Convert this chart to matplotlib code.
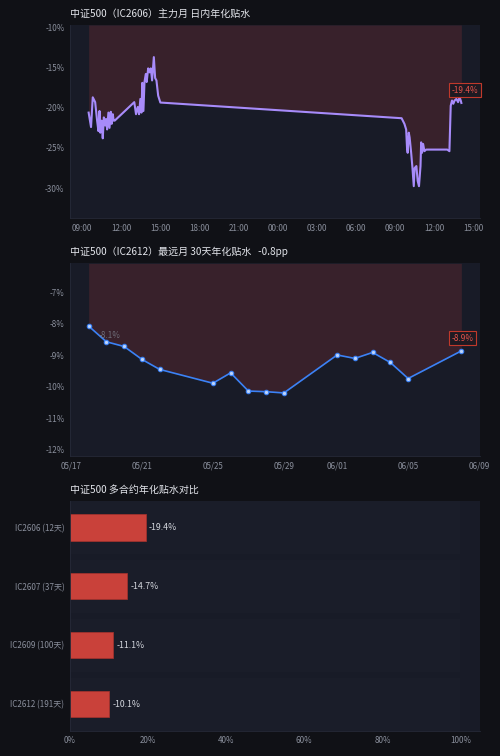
import matplotlib
matplotlib.use('Agg')
import matplotlib.pyplot as plt
import matplotlib.dates as mdates
from matplotlib.ticker import MultipleLocator, FuncFormatter
import numpy as np
import pandas as pd

plt.rcParams['font.family'] = ['Noto Sans CJK SC', 'DejaVu Sans']

# ---- data ----
day1 = '2026-06-04'
day2 = '2026-06-05'
day1_times = ['09:30', '09:41', '09:49', '10:00', '10:09', '10:15', '10:20', '10:24', '10:30', '10:35',
              '10:40', '10:46', '10:50', '10:55', '11:01', '11:06', '11:12', '11:16', '11:21', '11:25',
              '11:30', '13:00', '13:08', '13:16', '13:22', '13:28', '13:33', '13:37', '13:42', '13:47',
              '13:53', '13:57', '14:04', '14:10', '14:16', '14:22', '14:30', '14:36', '14:42', '14:50',
              '15:00']
day1_vals = [-20.6, -22.4, -18.7, -19.3, -21.6, -22.9, -20.4, -23.1, -21.6, -23.8,
             -21.2, -22.2, -21.4, -22.7, -20.6, -22.5, -20.5, -22.0, -20.8, -21.6,
             -21.6, -19.3, -20.8, -19.9, -20.8, -18.9, -20.6, -16.9, -20.4, -16.8,
             -15.8, -16.8, -15.1, -15.6, -15.1, -16.6, -13.7, -16.3, -16.6, -18.5,
             -19.35]
day2_times = ['09:30', '09:43', '09:51', '09:55', '09:58', '10:03', '10:07', '10:14', '10:20', '10:26',
              '10:30', '10:38', '10:44', '10:50', '10:57', '11:00', '11:04', '11:09', '11:15', '11:23',
              '11:30', '13:00', '13:10', '13:16', '13:22', '13:28', '13:34', '13:42', '13:50', '13:56',
              '14:02', '14:05']
day2_vals = [-21.3, -22.0, -22.7, -25.0, -25.6, -23.1, -23.7, -25.6, -27.5, -29.75,
             -27.5, -27.25, -29.1, -29.75, -27.25, -24.3, -25.6, -24.5, -25.4, -25.2,
             -25.2, -25.2, -25.4, -19.75, -19.1, -19.5, -19.1, -18.9, -19.3, -18.7,
             -19.1, -19.4]

far_dates = ['05-18', '05-19', '05-20', '05-21', '05-22', '05-25', '05-26', '05-27', '05-28', '05-29',
             '06-01', '06-02', '06-03', '06-04', '06-05', '06-08']
far_vals = [-8.07, -8.57, -8.72, -9.13, -9.45, -9.89, -9.56, -10.14, -10.16, -10.2,
            -8.99, -9.10, -8.91, -9.23, -9.74, -8.86]

contracts = ['IC2606 (12天)', 'IC2607 (37天)', 'IC2609 (100天)', 'IC2612 (191天)']
basis = [-19.4, -14.7, -11.1, -10.1]

# ---- style ----
fig_bg = '#101116'
ax_bg = '#181b27'
tick_c = '#8a8f9c'
title_c = '#e2e4ea'
red = '#ef4444'
pct = FuncFormatter(lambda v, p: '{:.0f}%'.format(v))


def style(ax):
    ax.set_facecolor(ax_bg)
    for s in ['top', 'right']:
        ax.spines[s].set_visible(False)
    for s in ['left', 'bottom']:
        ax.spines[s].set_color('#262a38')
        ax.spines[s].set_linewidth(0.6)
    ax.tick_params(colors=tick_c, labelsize=5.8, length=0, pad=4)


def end_label(ax, x, y, text):
    ax.annotate(text, xy=(x, y), xytext=(-7, 6), textcoords='offset points',
                ha='left', va='bottom', color='#e5534b', fontsize=5.9,
                bbox=dict(boxstyle='square,pad=0.3', fc='#1e1a22', ec='#c0392b', lw=0.8),
                annotation_clip=False, zorder=5)


fig = plt.figure(figsize=(5, 7.56), dpi=100)
fig.patch.set_facecolor(fig_bg)

ax1 = fig.add_axes([0.14, 0.7112, 0.82, 0.2558])
ax2 = fig.add_axes([0.14, 0.3972, 0.82, 0.2545])
ax3 = fig.add_axes([0.14, 0.0335, 0.82, 0.3042])
for ax in (ax1, ax2, ax3):
    style(ax)

# ---- top: intraday ----
t = pd.to_datetime([day1 + ' ' + s for s in day1_times] + [day2 + ' ' + s for s in day2_times])
v = np.array(day1_vals + day2_vals)
lo, hi = v.min() - 4, v.max() + 4
ax1.fill_between(t, v, hi, color=red, alpha=0.15, lw=0)
ax1.plot(t, v, color='#a78bfa', lw=1.5)
ax1.set_ylim(lo, hi)
ax1.yaxis.set_major_locator(MultipleLocator(5))
ax1.yaxis.set_major_formatter(pct)
ax1.xaxis.set_major_locator(mdates.HourLocator(byhour=range(0, 24, 3)))
ax1.xaxis.set_major_formatter(mdates.DateFormatter('%H:%M'))
end_label(ax1, t[-1], v[-1], '{:.1f}%'.format(v[-1]))
ax1.set_title('中证500（IC2606）主力月 日内年化贴水', loc='left', color=title_c, fontsize=7.2, pad=6)

# ---- middle: far month ----
d = pd.to_datetime(['2026-' + s for s in far_dates])
fv = np.array(far_vals)
lo2, hi2 = fv.min() - 2, fv.max() + 2
ax2.fill_between(d, fv, hi2, color=red, alpha=0.15, lw=0)
ax2.plot(d, fv, color='#3b82f6', lw=1.2, marker='o', ms=3.2, mfc='#bcd4fb', mec='#3b82f6', mew=0.8)
ax2.set_ylim(lo2, hi2)
ax2.yaxis.set_major_locator(MultipleLocator(1))
ax2.yaxis.set_major_formatter(pct)
ax2.xaxis.set_major_locator(mdates.DayLocator(bymonthday=[1, 5, 9, 13, 17, 21, 25, 29]))
ax2.xaxis.set_major_formatter(mdates.DateFormatter('%m/%d'))
ax2.annotate('{:.1f}%'.format(fv[0]), xy=(d[0], fv[0]), xytext=(7.4, -6.7), textcoords='offset points',
             ha='left', va='center', color='#7b808c', fontsize=5.9, alpha=0.8)
end_label(ax2, d[-1], fv[-1], '{:.1f}%'.format(fv[-1]))
change = round(fv[-1], 1) - round(fv[0], 1)
ax2.set_title('中证500（IC2612）最远月 30天年化贴水   {:.1f}pp'.format(change),
              loc='left', color=title_c, fontsize=7.2, pad=6)

# ---- bottom: contracts ----
y = np.arange(len(contracts))
ax3.barh(y, [100] * len(y), height=0.9, color='#1a1d29', lw=0, zorder=1)
ax3.barh(y, np.abs(basis), height=0.45, color='#c9413a', ec='#a8332d', lw=0.5, zorder=2)
for yi, b in zip(y, basis):
    ax3.text(abs(b) + 0.8, yi, '{:.1f}%'.format(b), color='#d4d7de', fontsize=6.3,
             ha='left', va='center', zorder=3)
ax3.set_yticks(y)
ax3.set_yticklabels(contracts)
ax3.set_ylim(3.45, -0.45)
ax3.set_xlim(0, 105)
ax3.xaxis.set_major_locator(MultipleLocator(20))
ax3.xaxis.set_major_formatter(pct)
ax3.set_title('中证500 多合约年化贴水对比', loc='left', color=title_c, fontsize=7.2, pad=6)

fig.savefig('out.png', dpi=100, facecolor=fig_bg)
